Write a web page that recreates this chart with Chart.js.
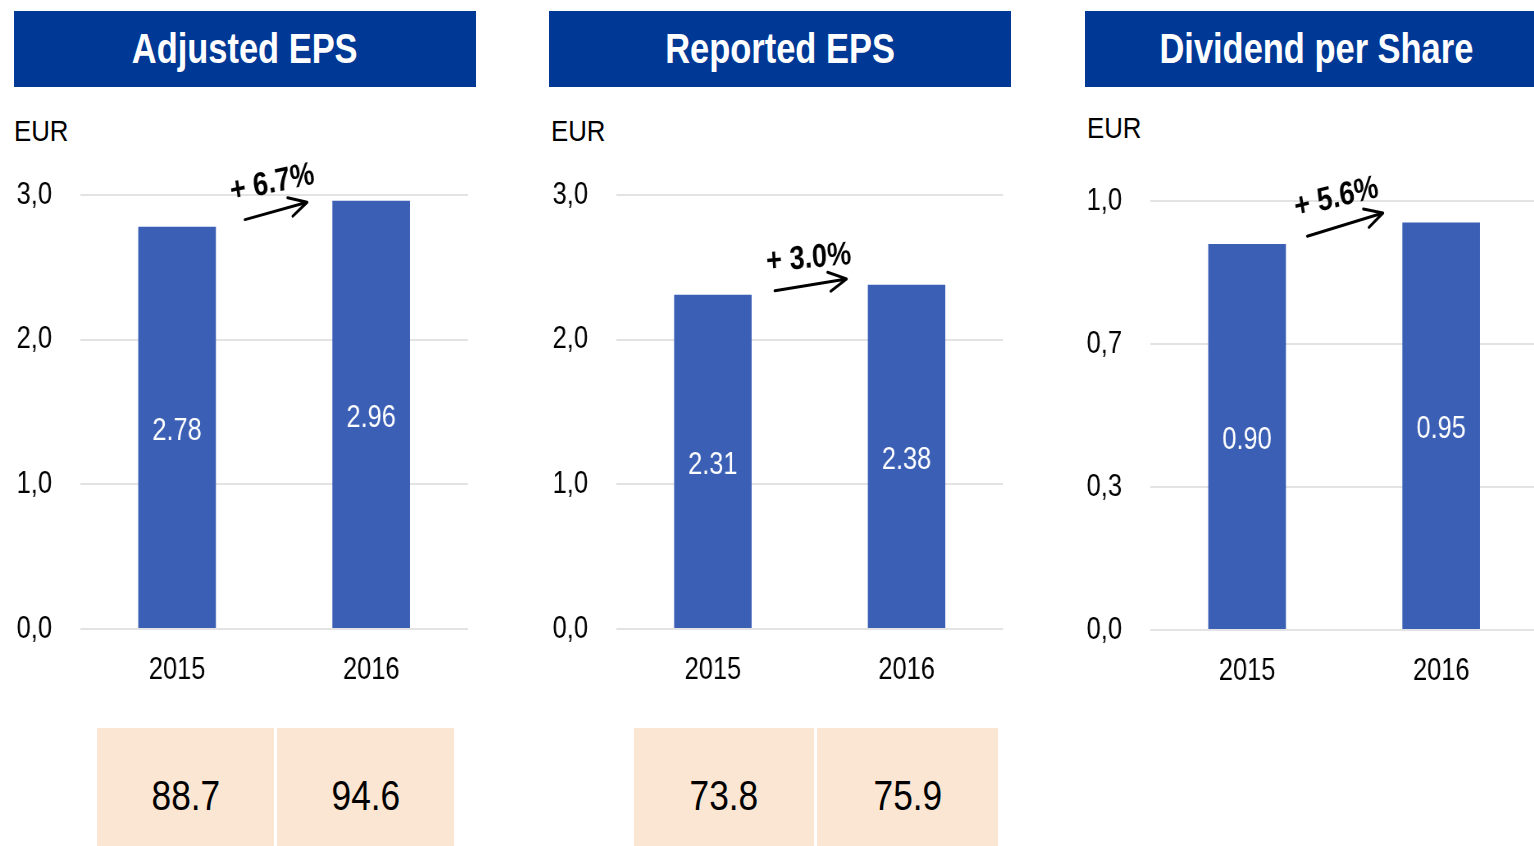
<!DOCTYPE html>
<html>
<head>
<meta charset="utf-8">
<script src="https://cdn.jsdelivr.net/npm/chart.js@4.4.1/dist/chart.umd.min.js"></script>
<style>
  html, body { margin: 0; padding: 0; background: #fff; overflow: hidden; width: 1534px; height: 846px; }
  body { position: relative; font-family: 'Liberation Sans', Arial, sans-serif; }
  .narrow { display: inline-block; transform: scaleX(0.82); transform-origin: center center; white-space: nowrap; }
  .hdr { position: absolute; top: 11px; height: 76px; width: 462px; background: #003896; color: #fff;
         font-weight: bold; font-size: 42px; display: flex; align-items: center; justify-content: center; }
  .eur { position: absolute; font-size: 30px; color: #000; line-height: 1; }
  .eur .narrow { transform: scaleX(0.86); transform-origin: left center; }
  .box { position: absolute; top: 728px; height: 134px; background: #FAE6D2; color: #000; font-size: 43px;
         display: flex; align-items: center; justify-content: center; }
  .wrap { position: absolute; top: 150px; transform: scaleX(0.82); transform-origin: 0 0; }
  .wrap canvas { display: block; }
</style>
</head>
<body>
<div class="hdr" style="left:14px"><span class="narrow">Adjusted EPS</span></div>
<div class="hdr" style="left:549px"><span class="narrow">Reported EPS</span></div>
<div class="hdr" style="left:1085px"><span class="narrow">Dividend per Share</span></div>
<div class="eur" style="left:14px; top:116px"><span class="narrow">EUR</span></div>
<div class="eur" style="left:551px; top:116px"><span class="narrow">EUR</span></div>
<div class="eur" style="left:1087px; top:113px"><span class="narrow">EUR</span></div>
<div id="boxes"></div>
<div class="wrap" style="left:0px"><canvas id="c1" width="571" height="550"></canvas></div>
<div class="wrap" style="left:536px"><canvas id="c2" width="570" height="550"></canvas></div>
<div class="wrap" style="left:1070px"><canvas id="c3" width="571" height="550"></canvas></div>
<script>
// ---- data ----
const categories = ['2015', '2016'];
const adjustedEps = [2.78, 2.96];
const reportedEps = [2.31, 2.38];
const dividendPerShare = [0.90, 0.95];
const epsTickValues = [0, 1, 2, 3];
const dividendTickValues = [0, 1 / 3, 2 / 3, 1];
const adjustedNetIncome = [88.7, 94.6];
const reportedNetIncome = [73.8, 75.9];
const growthLabels = ['+ 6.7%', '+ 3.0%', '+ 5.6%'];

// ---- styling ----
const S = 0.82; // horizontal compression used to emulate a narrow typeface
const FONT = "'Liberation Sans', Arial, sans-serif";
const BAR_COLOR = '#3A5FB5';
const GRID_COLOR = '#e3e3e3';

const boxLayout = [
  { values: adjustedNetIncome, lefts: [97, 277], widths: [177, 177] },
  { values: reportedNetIncome, lefts: [634, 817], widths: [180, 181] }
];
const boxesEl = document.getElementById('boxes');
boxLayout.forEach(b => {
  b.values.forEach((v, i) => {
    const d = document.createElement('div');
    d.className = 'box';
    d.style.left = b.lefts[i] + 'px';
    d.style.width = b.widths[i] + 'px';
    const s = document.createElement('span');
    s.className = 'narrow';
    s.textContent = v.toFixed(1);
    d.appendChild(s);
    boxesEl.appendChild(d);
  });
});

const barLabelPlugin = {
  id: 'barLabels',
  afterDatasetsDraw(chart) {
    const ctx = chart.ctx;
    const meta = chart.getDatasetMeta(0);
    const data = chart.data.datasets[0].data;
    ctx.save();
    ctx.fillStyle = '#fff';
    ctx.font = '31px ' + FONT;
    ctx.textAlign = 'center';
    ctx.textBaseline = 'middle';
    meta.data.forEach((bar, i) => {
      ctx.fillText(data[i].toFixed(2), bar.x, (bar.y + bar.base) / 2 + 4);
    });
    ctx.restore();
  }
};

const growthPlugin = {
  id: 'growth',
  afterDraw(chart, args, opts) {
    const x = chart.scales.x, y = chart.scales.y, ctx = chart.ctx;
    const x0 = x.getPixelForValue(opts.from[0]), y0 = y.getPixelForValue(opts.from[1]);
    const x1 = x.getPixelForValue(opts.to[0]), y1 = y.getPixelForValue(opts.to[1]);
    ctx.save();
    ctx.strokeStyle = '#000';
    ctx.lineWidth = 3;
    ctx.lineCap = 'round';
    ctx.lineJoin = 'round';
    ctx.beginPath();
    ctx.moveTo(x0, y0); ctx.lineTo(x1, y1);
    const ang = Math.atan2(y1 - y0, (x1 - x0) * S);
    const L = 20, spread = 0.5;
    ctx.moveTo(x1 - L * Math.cos(ang - spread) / S, y1 - L * Math.sin(ang - spread));
    ctx.lineTo(x1, y1);
    ctx.lineTo(x1 - L * Math.cos(ang + spread) / S, y1 - L * Math.sin(ang + spread));
    ctx.stroke();
    const tx = x.getPixelForValue(opts.text[0]), ty = y.getPixelForValue(opts.text[1]);
    ctx.translate(tx, ty);
    ctx.rotate(Math.atan(Math.tan(opts.rotation * Math.PI / 180) * S));
    ctx.fillStyle = '#000';
    ctx.font = 'bold 33px ' + FONT;
    ctx.textAlign = 'center';
    ctx.textBaseline = 'middle';
    ctx.fillText(opts.label, 0, 0);
    ctx.restore();
  }
};

function makeChart(id, values, tickValues, tickFmt, padTop, xHeight, growth) {
  return new Chart(document.getElementById(id), {
    type: 'bar',
    data: {
      labels: categories,
      datasets: [{ data: values, backgroundColor: BAR_COLOR, barPercentage: 0.4, categoryPercentage: 1.0 }]
    },
    options: {
      responsive: false,
      animation: false,
      devicePixelRatio: 1,
      layout: { padding: { top: padTop, right: 0, bottom: 0, left: 0 } },
      plugins: { legend: { display: false }, tooltip: { enabled: false }, growth: growth },
      scales: {
        x: {
          grid: { display: false },
          border: { display: false },
          ticks: { color: '#000', font: { size: 31, family: FONT }, padding: 15 },
          afterFit(s) { s.height = xHeight; }
        },
        y: {
          min: 0,
          max: tickValues[tickValues.length - 1],
          grid: { color: GRID_COLOR, lineWidth: 2, drawTicks: false },
          border: { display: false },
          afterBuildTicks(s) { s.ticks = tickValues.map(v => ({ value: v })); },
          ticks: { color: '#000', font: { size: 31, family: FONT }, padding: 28 / S, callback: tickFmt },
          afterFit(s) { s.width = 80 / S; s.paddingTop = 0; s.paddingBottom = 0; }
        }
      }
    },
    plugins: [barLabelPlugin, growthPlugin]
  });
}

const fmt = v => Number(v).toFixed(1).replace('.', ',');

makeChart('c1', adjustedEps, epsTickValues, fmt, 45, 71,
  { label: growthLabels[0], from: [0.35, 2.83], to: [0.67, 2.95], text: [0.49, 3.08], rotation: -12 });
makeChart('c2', reportedEps, epsTickValues, fmt, 45, 71,
  { label: growthLabels[1], from: [0.32, 2.338], to: [0.69, 2.42], text: [0.495, 2.56], rotation: -5 });
makeChart('c3', dividendPerShare, dividendTickValues, fmt, 51, 70,
  { label: growthLabels[2], from: [0.31, 0.918], to: [0.70, 0.972], text: [0.46, 1.007], rotation: -14 });
</script>
</body>
</html>
